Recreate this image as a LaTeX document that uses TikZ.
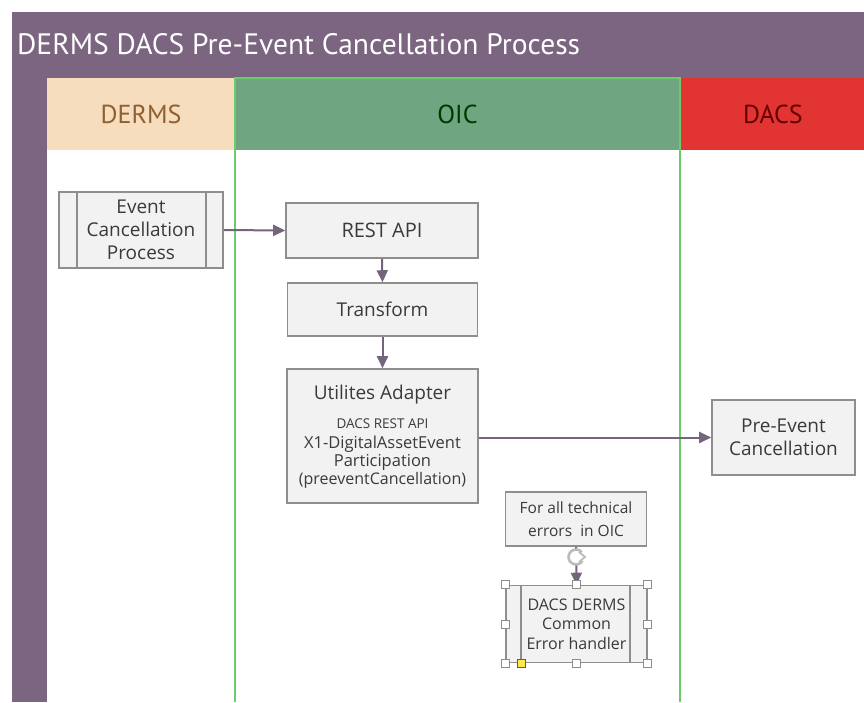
\documentclass[tikz,border=0pt]{standalone}
\usepackage{fontspec}
\setmainfont{Open Sans}
\newfontfamily\titlefont{PT Sans}
\usetikzlibrary{arrows.meta,calc}
\definecolor{pool}{HTML}{7B6581}
\definecolor{dermsh}{HTML}{F5DDBE}
\definecolor{oich}{HTML}{6FA681}
\definecolor{dacsh}{HTML}{E23432}
\definecolor{oicline}{HTML}{6CCB6C}
\definecolor{boxfill}{HTML}{F2F2F2}
\definecolor{boxline}{HTML}{8E8E8E}
\definecolor{flow}{HTML}{74647C}
\definecolor{txt}{HTML}{3A3A3A}
\tikzset{
  procbox/.style={draw=boxline, line width=1.6pt, fill=boxfill, text=txt, align=center, inner sep=2pt, font=\fontsize{19}{23}\selectfont},
  boxtext/.style={text=txt, anchor=base, inner sep=0pt},
  flowarrow/.style={draw=flow, line width=2pt, -{Triangle[length=12pt,width=11pt]}},
  handle/.style={draw=boxline, fill=white, line width=0.7pt, minimum size=8pt, inner sep=0pt},
  hdrtext/.style={font=\titlefont\fontsize{26}{28}\selectfont}
}
\begin{document}
\begin{tikzpicture}[x=1pt,y=-1pt]
\useasboundingbox (0,0) rectangle (864,702);
\fill[white] (0,0) rectangle (864,702);
% pool
\fill[pool] (12,12) rectangle (864,78);
\fill[pool] (12,78) rectangle (47,702);
\node[anchor=west, text=white, font=\titlefont\fontsize{29.5}{32}\selectfont, inner sep=0pt] (title) at (17,44) {DERMS DACS Pre-Event Cancellation Process};
% lane headers
\fill[dermsh] (47,78) rectangle (235,150);
\fill[oich] (235,78) rectangle (680,150);
\fill[dacsh] (680,78) rectangle (864,150);
\node[hdrtext, text=brown!75!black] (hderms) at (141,114) {DERMS};
\node[hdrtext, text=green!22!black] (hoic) at (457.5,114) {OIC};
\node[hdrtext, text=red!40!black] (hdacs) at (773,114) {DACS};
\draw[oicline, line width=2.6pt] (235,702) -- (235,78) -- (680,78) -- (680,702);
% nodes
\node[procbox, minimum width=164pt, minimum height=76pt] (evt) at (141,230) {Event\\Cancellation\\Process};
\draw[boxline, line width=1.6pt] ($(evt.north west)+(18.5,0)$) -- ($(evt.south west)+(18.5,0)$);
\draw[boxline, line width=1.6pt] ($(evt.north east)+(-18,0)$) -- ($(evt.south east)+(-18,0)$);
\node[procbox, minimum width=192pt, minimum height=55pt, font=\fontsize{20}{23}\selectfont] (rest) at (382,230.5) {REST API};
\node[procbox, minimum width=190pt, minimum height=53pt] (trans) at (382.5,309.5) {Transform};
\node[procbox, minimum width=191pt, minimum height=134pt] (util) at (382.5,436) {};
\node[boxtext, font=\fontsize{19}{23}\selectfont] (utila) at (382.5,399) {Utilites Adapter};
\node[boxtext, font=\fontsize{13.5}{16}\selectfont] (utilb) at (382.5,428) {DACS REST API};
\node[boxtext, font=\fontsize{16.5}{18}\selectfont] (utilc) at (382.5,448) {X1-DigitalAssetEvent};
\node[boxtext, font=\fontsize{16.5}{18}\selectfont] (utild) at (382.5,466) {Participation};
\node[boxtext, font=\fontsize{16}{18}\selectfont] (utile) at (382.5,484) {(preeventCancellation)};
\node[procbox, minimum width=143pt, minimum height=75pt] (pre) at (783.5,437.5) {Pre-Event\\Cancellation};
\node[procbox, minimum width=141pt, minimum height=54pt, font=\fontsize{15.5}{23}\selectfont] (forall) at (576,519) {For all technical\\errors\ \ in OIC};
\node[procbox, minimum width=141pt, minimum height=77pt, font=\fontsize{16}{19.5}\selectfont] (dacs) at (576.5,624) {DACS DERMS\\Common\\Error handler};
\draw[boxline, line width=1.6pt] ($(dacs.north west)+(16,0)$) -- ($(dacs.south west)+(16,0)$);
\draw[boxline, line width=1.6pt] ($(dacs.north east)+(-18,0)$) -- ($(dacs.south east)+(-18,0)$);
% connectors
\draw[flowarrow] (evt.east) -- (rest.west);
\draw[flowarrow] (rest.south) -- (trans.north);
\draw[flowarrow] (trans.south) -- (util.north);
\draw[flowarrow] (util.east |- pre.west) -- (pre.west);
\draw[flowarrow] (forall.south) -- (dacs.north);
% rotate handle glyph
\coordinate (rot) at (576,557);
\fill[white] (rot) circle (8pt);
\draw[boxline!60, line width=2.6pt] ($(rot)+(40:7.5pt)$) arc[start angle=40, end angle=330, radius=7.5pt];
\draw[boxline!60, line width=1.8pt] ($(rot)+(3,-5)$) -- ($(rot)+(9,0)$) -- ($(rot)+(3,5)$);
% selection handles
\foreach \a in {north west,north,north east,east,south east,south,west,south west}
  \node[handle] at (dacs.\a) {};
\node[handle, fill=yellow!85!orange!70, draw=orange!60!black] at ($(dacs.south west)+(16,0)$) {};
\end{tikzpicture}
\end{document}
